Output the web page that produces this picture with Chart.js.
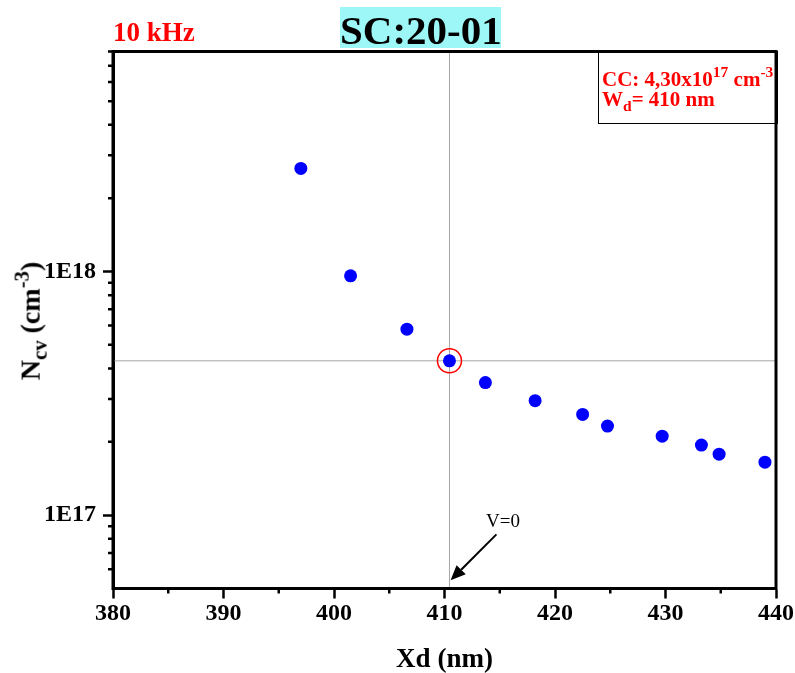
<!DOCTYPE html>
<html><head><meta charset="utf-8">
<script src="https://cdn.jsdelivr.net/npm/chart.js@4"></script>
<style>
html,body{margin:0;padding:0;background:#fff;}
#wrap{position:relative;width:795px;height:673px;overflow:hidden;}
canvas{position:absolute;left:0;top:0;}
.t{position:absolute;font-family:"Liberation Serif","Times New Roman",serif;font-weight:bold;white-space:nowrap;line-height:1;}
#freq{left:113px;top:19px;font-size:27px;color:#ff0000;}
#tbox{position:absolute;left:340px;top:7px;width:161px;height:41px;background:#9ef7f7;}
#title{left:340px;width:161px;text-align:center;top:10px;font-size:41px;color:#000;}
#box{position:absolute;left:598px;top:51px;width:178px;height:71px;border:1px solid #000;}
#l1{left:602px;top:64px;font-size:21px;color:#ff0000;}
#l2{left:602px;top:89px;font-size:21px;color:#ff0000;}
sup{font-size:0.74em;vertical-align:0.55em;}
sub{font-size:0.74em;vertical-align:-0.32em;}
#ytitle{left:31px;top:321px;font-size:28px;color:#000;transform:translate(-50%,-50%) rotate(-90deg);}
</style></head><body>
<div id="wrap">
<canvas id="c" width="795" height="673"></canvas>
<div class="t" id="freq">10 kHz</div>
<div id="tbox"></div>
<div class="t" id="title">SC:20-01</div>
<div id="box"></div>
<div class="t" id="l1">CC: 4,30x10<sup>17</sup> cm<sup>-3</sup></div>
<div class="t" id="l2">W<sub>d</sub>= 410 nm</div>
<div class="t" id="ytitle">N<sub>cv</sub> (cm<sup>-3</sup>)</div>
</div>
<script>
// ---- data ----
const xd  = [397.0, 401.5, 406.6, 410.45, 413.7, 418.2, 422.5, 424.75, 429.7, 433.25, 434.85, 439.0];
const ncv = [2.65e18, 9.6e17, 5.8e17, 4.3e17, 3.5e17, 2.95e17, 2.59e17, 2.32e17, 2.11e17, 1.94e17, 1.78e17, 1.65e17];
const wdValue = 410.45;      // crosshair Xd (nm)
const ccValue = 4.30e17;     // crosshair N (cm-3)
const xMin = 380, xMax = 440, xStep = 10;
const xMinorTicks = [385, 395, 405, 415, 425, 435];
const yMin = 5e16, yMax = 8e18;
const yTickValues = [1e17, 1e18];
const yTickLabels = ['1E17', '1E18'];
const yMinorTicks = [6e16, 7e16, 8e16, 9e16, 2e17, 3e17, 4e17, 5e17, 6e17, 7e17, 8e17, 9e17, 2e18, 3e18, 4e18, 5e18, 6e18, 7e18, 8e18];
const arrowFrom = {x: 414.7, y: 8.34e16};
const arrowTo   = {x: 410.55, y: 5.4e16};
const arrowText = {x: 415.3, y: 9.4e16, text: 'V=0'};

const points = xd.map((v, i) => ({x: v, y: ncv[i]}));
const SERIF = '"Liberation Serif","Times New Roman",serif';

const decor = {
  id: 'decor',
  afterDraw(chart) {
    const {ctx, chartArea: a, scales: {x, y}} = chart;
    ctx.save();
    ctx.strokeStyle = '#000';
    ctx.lineWidth = 2.5;
    ctx.beginPath();
    xMinorTicks.forEach(v => { const px = x.getPixelForValue(v); ctx.moveTo(px, a.bottom); ctx.lineTo(px, a.bottom + 5); });
    yMinorTicks.forEach(v => { const py = y.getPixelForValue(v); ctx.moveTo(a.left - 5, py); ctx.lineTo(a.left, py); });
    ctx.stroke();
    ctx.lineWidth = 3;
    ctx.strokeRect(a.left, a.top, a.right - a.left, a.bottom - a.top);
    // arrow
    const x0 = x.getPixelForValue(arrowFrom.x), y0 = y.getPixelForValue(arrowFrom.y);
    const x1 = x.getPixelForValue(arrowTo.x), y1 = y.getPixelForValue(arrowTo.y);
    const ang = Math.atan2(y1 - y0, x1 - x0);
    const hl = 15, hw = 6.5;
    const bx = x1 - hl * Math.cos(ang), by = y1 - hl * Math.sin(ang);
    ctx.lineWidth = 2;
    ctx.beginPath(); ctx.moveTo(x0, y0); ctx.lineTo(bx, by); ctx.stroke();
    ctx.fillStyle = '#000';
    ctx.beginPath();
    ctx.moveTo(x1, y1);
    ctx.lineTo(bx + hw * Math.sin(ang), by - hw * Math.cos(ang));
    ctx.lineTo(bx - hw * Math.sin(ang), by + hw * Math.cos(ang));
    ctx.closePath(); ctx.fill();
    ctx.font = '19px ' + SERIF;
    ctx.textAlign = 'center'; ctx.textBaseline = 'middle';
    ctx.fillText(arrowText.text, x.getPixelForValue(arrowText.x), y.getPixelForValue(arrowText.y));
    ctx.restore();
  }
};

new Chart(document.getElementById('c'), {
  type: 'scatter',
  data: {
    datasets: [
      {data: points, pointRadius: 6.5, pointHoverRadius: 6.5, backgroundColor: '#0000ff', borderWidth: 0, order: 0},
      {data: [{x: wdValue, y: ccValue}], pointRadius: 12, pointHoverRadius: 12, backgroundColor: 'rgba(0,0,0,0)', borderColor: '#ff0000', borderWidth: 1.5, order: 1},
      {type: 'line', data: [{x: wdValue, y: yMin}, {x: wdValue, y: yMax}], showLine: true, borderColor: '#a6a6a6', borderWidth: 1, pointRadius: 0, order: 2},
      {type: 'line', data: [{x: xMin, y: ccValue}, {x: xMax, y: ccValue}], showLine: true, borderColor: '#a6a6a6', borderWidth: 1, pointRadius: 0, order: 2}
    ]
  },
  options: {
    responsive: false, animation: false, devicePixelRatio: 1,
    layout: {padding: {top: 51.5, right: 18, bottom: 0, left: 0}},
    plugins: {legend: {display: false}, tooltip: {enabled: false}},
    scales: {
      x: {
        type: 'linear', position: 'bottom', min: xMin, max: xMax,
        ticks: {stepSize: xStep, color: '#000', font: {family: SERIF, weight: 'bold', size: 24}, padding: 1, maxRotation: 0},
        grid: {drawOnChartArea: false, drawTicks: true, tickLength: 10, tickWidth: 2.5, tickColor: '#000'},
        border: {display: true, width: 3, color: '#000'},
        title: {display: true, text: 'Xd (nm)', color: '#000', font: {family: SERIF, weight: 'bold', size: 27}, padding: {top: 0, bottom: -3}},
        afterFit(s) { s.height = 84.5; }
      },
      y: {
        type: 'logarithmic', position: 'left', min: yMin, max: yMax,
        afterBuildTicks(s) { s.ticks = yTickValues.map(v => ({value: v, major: true})); },
        ticks: {color: '#000', font: {family: SERIF, weight: 'bold', size: 24}, padding: 7,
          callback: (v) => { const i = yTickValues.indexOf(v); return i >= 0 ? yTickLabels[i] : ''; }},
        grid: {drawOnChartArea: false, drawTicks: true, tickLength: 10, tickWidth: 2.5, tickColor: '#000'},
        border: {display: true, width: 3, color: '#000'},
        afterFit(s) { s.width = 113; }
      }
    }
  },
  plugins: [decor]
});
</script>
</body></html>
